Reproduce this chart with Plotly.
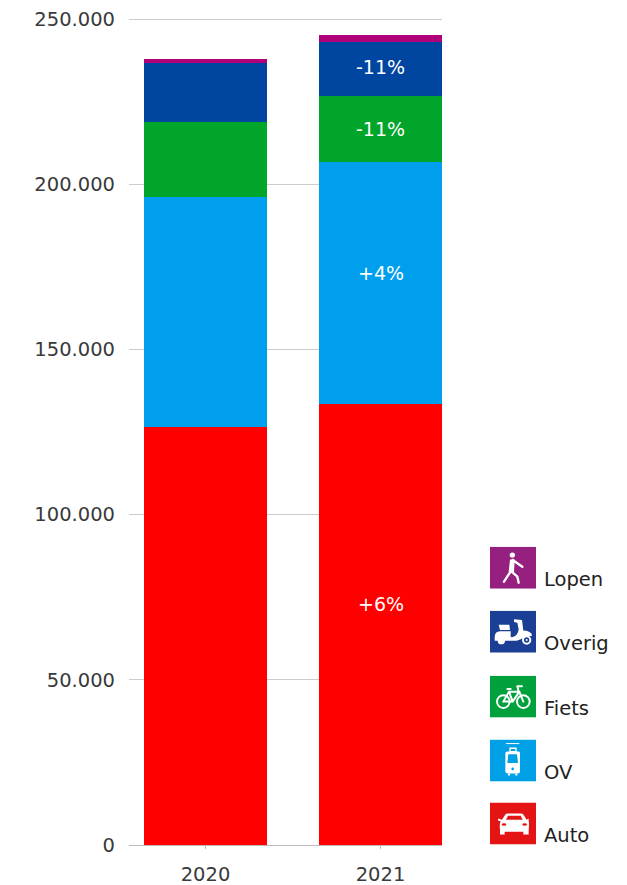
import base64
import plotly.graph_objects as go

W, H = 627, 885
L, R, T, B = 129, 442, 18.8, 845.5

years = ["2020", "2021"]
auto = [126400, 133600]
ov = [69600, 73000]
fiets = [22700, 20200]
overig = [18100, 16100]
lopen = [1200, 2400]
labels_auto = ["", "+6%"]
labels_ov = ["", "+4%"]
labels_fiets = ["", "-11%"]
labels_overig = ["", "-11%"]
tick_vals = [0, 50000, 100000, 150000, 200000, 250000]
tick_text = ["0", "50.000", "100.000", "150.000", "200.000", "250.000"]
legend_names = ["Lopen", "Overig", "Fiets", "OV", "Auto"]

FONT = "DejaVu Sans"
TXT = "#3a3a3a"
EXTRA = 4  # pixels of head-room so the top gridline is drawn

bar_colors = {"Auto": "#ff0000", "OV": "#009fee", "Fiets": "#00a52a", "Overig": "#0045a0", "Lopen": "#b0007a"}
icon_colors = {"Auto": "#e51414", "OV": "#00a0e6", "Fiets": "#00a03c", "Overig": "#1a3f94", "Lopen": "#952080"}
legend_tops = {"Lopen": 547, "Overig": 611, "Fiets": 676, "OV": 740, "Auto": 803}
label_frac = {"Auto": 0.547, "OV": 0.54, "Fiets": 0.5, "Overig": 0.547}

icons = {
    "Lopen": '<circle cx="67" cy="25" r="8" fill="#fff"/>'
             '<path d="M68 40 L97 60 M62 74 L42 105 M64 74 L82 90 L86 108" '
             'stroke="#fff" stroke-width="7" fill="none" stroke-linecap="round" stroke-linejoin="round"/>'
             '<path d="M60 38 L74 38 L72 76 L56 76 Z" fill="#fff"/>',
    "Overig": '<path d="M14 80 Q14 60 34 62 L62 62 L62 78 L66 80 Q84 76 86 56 L82 36 L72 34 L72 26 L96 28 L100 60 '
              'Q112 58 124 68 L126 76 L106 76 Q94 88 80 90 L46 90 L14 90 Z" fill="#fff"/>'
              '<path d="M26 42 L58 42 L60 58 L30 58 Z" fill="#fff"/>'
              '<circle cx="34" cy="90" r="11" fill="#fff"/>'
              '<circle cx="110" cy="88" r="11" fill="none" stroke="#fff" stroke-width="6"/>'
              '<circle cx="110" cy="88" r="3" fill="#fff"/>',
    "Fiets": '<circle cx="40" cy="78" r="19" fill="none" stroke="#fff" stroke-width="6"/>'
             '<circle cx="100" cy="78" r="19" fill="none" stroke="#fff" stroke-width="6"/>'
             '<path d="M40 78 L57 48 L88 48 L100 78 M57 48 L68 78 L88 48 M40 78 L68 78 M52 40 L62 40 M86 48 L82 32 L96 32" '
             'stroke="#fff" stroke-width="6" fill="none" stroke-linecap="round" stroke-linejoin="round"/>',
    "OV": '<path d="M48 12 L88 12" stroke="#fff" stroke-width="3"/>'
          '<path d="M60 26 L78 26 L78 36 L60 36 Z" fill="none" stroke="#fff" stroke-width="4"/>'
          '<path d="M52 36 L86 36 Q90 36 90 42 L90 96 Q90 102 84 102 L54 102 Q46 102 46 96 L46 42 Q46 36 52 36 Z" fill="#fff"/>'
          '<path d="M55 44 L81 44 L84 70 L52 70 Z" fill="#00a0e6"/>'
          '<circle cx="68" cy="88" r="4" fill="#00a0e6"/>'
          '<path d="M54 102 L54 108 L60 108 L60 102 Z M76 102 L76 108 L82 108 L82 102 Z" fill="#fff"/>',
    "Auto": '<path d="M36 52 L46 36 Q48 33 54 33 L92 33 Q98 33 100 36 L110 52 L116 48 L116 56 Q118 60 116 84 L116 96 L100 96 L100 88 '
            'L44 88 L44 96 L30 96 L30 84 Q28 60 32 56 L24 54 L24 48 Z" fill="#fff"/>'
            '<path d="M48 52 L54 40 L92 40 L98 52 Z" fill="#e51414"/>'
            '<ellipse cx="42" cy="66" rx="7" ry="4" fill="#e51414"/>'
            '<ellipse cx="104" cy="66" rx="7" ry="4" fill="#e51414"/>',
}

PLOT_T = T - EXTRA


def fx(px):
    return (px - L) / (R - L)


def fy(py):
    return (B - py) / (B - PLOT_T)


def svg_uri(name):
    svg = ('<svg xmlns="http://www.w3.org/2000/svg" width="138" height="126" viewBox="0 0 138 126">'
           f'<rect width="138" height="126" fill="{icon_colors[name]}"/>{icons[name]}</svg>')
    return "data:image/svg+xml;base64," + base64.b64encode(svg.encode()).decode()


series = [
    ("Auto", auto, labels_auto),
    ("OV", ov, labels_ov),
    ("Fiets", fiets, labels_fiets),
    ("Overig", overig, labels_overig),
    ("Lopen", lopen, ["", ""]),
]

fig = go.Figure()
annotations = []
base = [0, 0]
for name, vals, labs in series:
    fig.add_bar(
        x=[0, 1], y=vals, name=name, width=0.703,
        marker=dict(color=bar_colors[name], line=dict(width=0)),
        hoverinfo="skip",
    )
    for i, lab in enumerate(labs):
        if lab:
            annotations.append(dict(text=lab, x=i, y=base[i] + vals[i] * label_frac[name],
                                    xref="x", yref="y", xanchor="center", yanchor="middle", showarrow=False,
                                    font=dict(family=FONT, size=19, color="#ffffff")))
    base = [b + v for b, v in zip(base, vals)]

images = []
for name in legend_names:
    top = legend_tops[name]
    images.append(dict(source=svg_uri(name), xref="paper", yref="paper", x=fx(490), y=fy(top),
                       sizex=46 / (R - L), sizey=42 / (B - PLOT_T), xanchor="left", yanchor="top",
                       sizing="stretch", layer="above"))
    annotations.append(dict(text=name, xref="paper", yref="paper", x=fx(541.5), y=fy(top + 33),
                            xanchor="left", yanchor="middle", showarrow=False,
                            font=dict(family=FONT, size=19.5, color="#222222")))

fig.update_layout(
    width=W, height=H, barmode="stack", showlegend=False,
    plot_bgcolor="#ffffff", paper_bgcolor="#ffffff",
    margin=dict(l=L, r=W - R, t=PLOT_T, b=H - B, pad=0, autoexpand=False),
    images=images, annotations=annotations,
    xaxis=dict(range=[(L - 205.5) / 175, (R - 205.5) / 175], tickvals=[0, 1], ticktext=years,
               ticks="outside", ticklen=3, tickcolor="#bbbbbb", tickwidth=1,
               ticklabelstandoff=9,
               showgrid=False, zeroline=False, showline=True, linecolor="#bbbbbb", linewidth=1,
               tickfont=dict(family=FONT, size=19.5, color=TXT)),
    yaxis=dict(range=[0, 250000 * (B - PLOT_T) / (B - T)], tickvals=tick_vals, ticktext=tick_text, ticks="",
               showgrid=True, gridcolor="#cccccc", gridwidth=1, zeroline=False, showline=False,
               ticklabelstandoff=13,
               tickfont=dict(family=FONT, size=19.5, color=TXT)),
)

fig.write_html("out.html", config={"displayModeBar": False}, post_script="document.body.style.margin='0';")
